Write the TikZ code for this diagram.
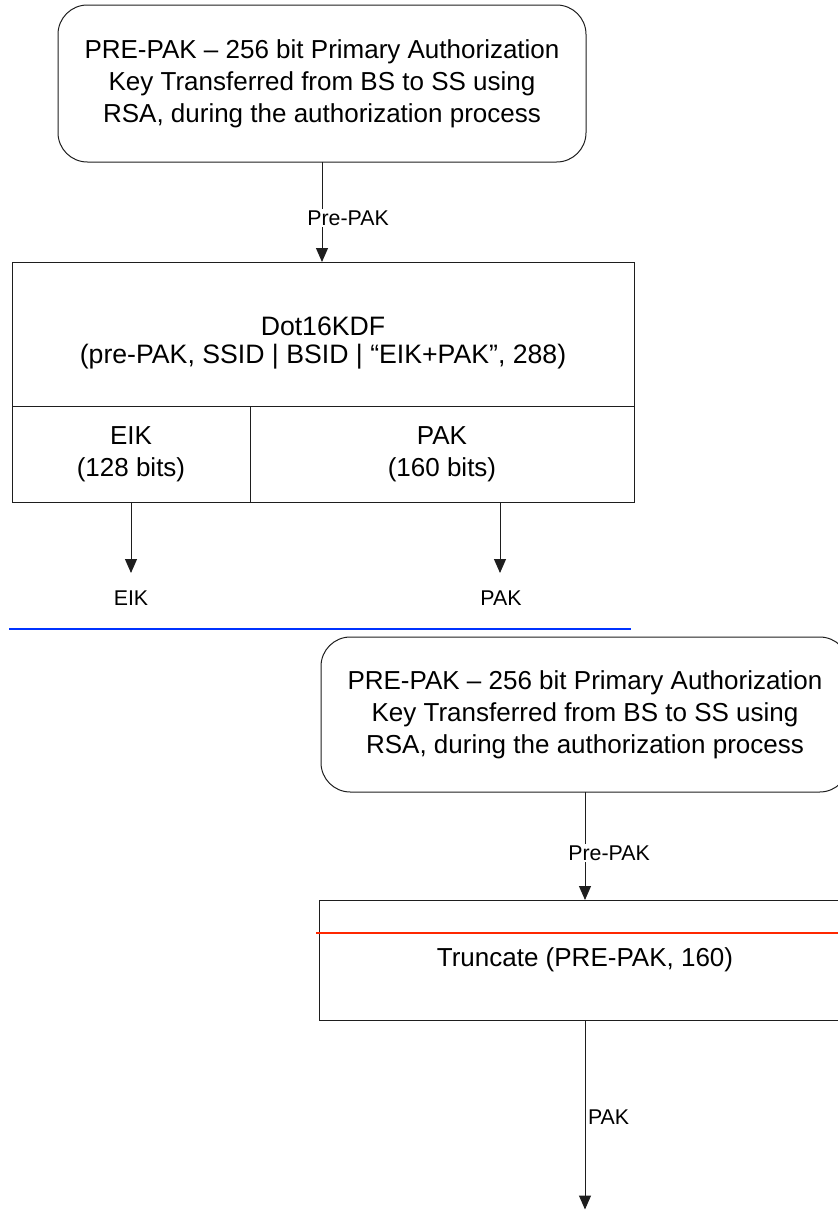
\documentclass[tikz,border=0pt]{standalone}
\usepackage{fontspec}
\setmainfont{Liberation Sans}
\usetikzlibrary{arrows.meta}
\definecolor{ln}{RGB}{30,30,30}
\definecolor{bl}{RGB}{0,51,255}
\definecolor{rd}{RGB}{255,40,0}
\begin{document}
\begin{tikzpicture}[x=0.75pt,y=-0.75pt,
  every node/.style={inner sep=0pt,outer sep=0pt},
  rbox/.style={draw=ln,line width=0.75pt,rounded corners=22pt,minimum width=396pt,align=center,
     font=\fontsize{19.5}{24}\selectfont},
  sbox/.style={draw=ln,line width=0.75pt,align=center,font=\fontsize{19.5}{24}\selectfont},
  arr/.style={draw=ln,line width=0.75pt,-{Triangle[width=9pt,length=10.5pt]}},
  lbl/.style={font=\fontsize{16}{19}\selectfont},
  lblw/.style={lbl,fill=white,inner sep=1pt},
  sep/.style={line width=1.6pt}
]
\clip (0,0) rectangle (838,1210);
% upper part
\node[rbox,minimum height=117.75pt] (pre1) at (322,83.5)
  {PRE-PAK – 256 bit Primary Authorization\\Key Transferred from BS to SS using\\RSA, during the authorization process};
\node[sbox,minimum width=466.5pt,minimum height=108pt] (kdf) at (323,334) {};
\node[font=\fontsize{20}{21}\selectfont,align=center] (kdft) at (323,343)
  {Dot16KDF\\(pre-PAK, SSID | BSID | “EIK+PAK”, 288)};
\node[sbox,minimum width=178.5pt,minimum height=72pt] (eik) at (131,454) {EIK\\(128 bits)};
\node[sbox,minimum width=288pt,minimum height=72pt] (pak) at (442,454) {PAK\\(160 bits)};
\draw[arr] (pre1.south) -- (pre1.south |- kdf.north);
\node[lblw,anchor=west] (l1) at (306,218) {Pre-PAK};
\coordinate (eikend) at (131,573);
\coordinate (pakend) at (500,573);
\draw[arr] (eik.south) -- (eikend);
\draw[arr] (pakend |- pak.south) -- (pakend);
\node[lbl] (eikl) at (131,598) {EIK};
\node[lbl] (pakl) at (501,598) {PAK};
% separator
\coordinate (b1) at (9,629);
\coordinate (b2) at (631,629);
\draw[bl,sep] (b1) -- (b2);
% lower part
\node[rbox,minimum height=116.25pt] (pre2) at (585,714.5)
  {PRE-PAK – 256 bit Primary Authorization\\Key Transferred from BS to SS using\\RSA, during the authorization process};
\node[sbox,minimum width=399pt,minimum height=90pt] (trunc) at (585,960) {Truncate (PRE-PAK, 160)};
\draw[arr] (pre2.south) -- (trunc.north);
\node[lblw,anchor=west] (l2) at (567,853) {Pre-PAK};
\coordinate (r1) at (316,933);
\coordinate (r2) at (845,933);
\draw[rd,sep] (r1) -- (r2);
\coordinate (tend) at (585,1209.5);
\draw[arr] (trunc.south) -- (tend);
\node[lbl,anchor=west] (l3) at (588,1117) {PAK};
\end{tikzpicture}
\end{document}
